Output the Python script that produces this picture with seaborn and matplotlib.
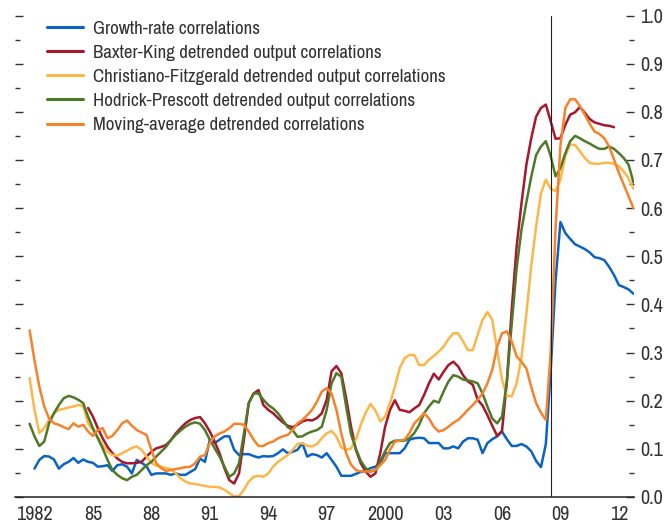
import numpy as np
import pandas as pd
import seaborn as sns
import matplotlib.pyplot as plt
from matplotlib import font_manager
from matplotlib.ticker import MultipleLocator, FixedLocator, FixedFormatter

# quarterly correlations, x = year + (quarter-1)/4
growth_start = 1982.0
growth = [
    0.059, 0.077, 0.085, 0.084,
    0.078, 0.059, 0.068, 0.073,
    0.081, 0.071, 0.078, 0.073,
    0.071, 0.063, 0.064, 0.066,
    0.054, 0.066, 0.068, 0.063,
    0.049, 0.077, 0.071, 0.064,
    0.046, 0.049, 0.049, 0.049,
    0.046, 0.049, 0.046, 0.046,
    0.052, 0.058, 0.080, 0.073,
    0.119, 0.112, 0.119, 0.126,
    0.126, 0.098, 0.087, 0.089,
    0.089, 0.085, 0.082, 0.085,
    0.084, 0.085, 0.091, 0.099,
    0.091, 0.094, 0.098, 0.112,
    0.084, 0.089, 0.087, 0.082,
    0.091, 0.077, 0.063, 0.044,
    0.044, 0.044, 0.048, 0.052,
    0.054, 0.060, 0.063, 0.070,
    0.091, 0.091, 0.091, 0.091,
    0.101, 0.119, 0.122, 0.123,
    0.122, 0.112, 0.112, 0.112,
    0.101, 0.101, 0.105, 0.101,
    0.115, 0.122, 0.122, 0.119,
    0.091, 0.112, 0.120, 0.126,
    0.136, 0.120, 0.106, 0.106,
    0.110, 0.105, 0.095, 0.075,
    0.062, 0.110, 0.264, 0.450,
    0.571, 0.548, 0.536, 0.525,
    0.520, 0.515, 0.508, 0.498,
    0.496, 0.492, 0.478, 0.461,
    0.440, 0.436, 0.431, 0.422,
]

bk_start = 1984.75
baxter_king = [
    0.185,
    0.167, 0.143, 0.122, 0.104,
    0.091, 0.080, 0.073, 0.070,
    0.070, 0.071, 0.073, 0.084,
    0.094, 0.101, 0.104, 0.108,
    0.118, 0.132, 0.143, 0.153,
    0.160, 0.164, 0.166, 0.153,
    0.136, 0.115, 0.091, 0.060,
    0.035, 0.028, 0.049, 0.119,
    0.195, 0.215, 0.222, 0.191,
    0.181, 0.174, 0.164, 0.155,
    0.148, 0.145, 0.150, 0.157,
    0.160, 0.159, 0.164, 0.174,
    0.202, 0.261, 0.272, 0.257,
    0.205, 0.146, 0.098, 0.070,
    0.053, 0.042, 0.049, 0.091,
    0.146, 0.181, 0.201, 0.181,
    0.179, 0.176, 0.184, 0.191,
    0.212, 0.236, 0.256, 0.244,
    0.260, 0.274, 0.281, 0.271,
    0.253, 0.240, 0.233, 0.202,
    0.190, 0.170, 0.148, 0.127,
    0.137, 0.240, 0.390, 0.520,
    0.610, 0.690, 0.745, 0.790,
    0.808, 0.815, 0.780, 0.744,
    0.745, 0.773, 0.794, 0.799,
    0.810, 0.798, 0.785, 0.778,
    0.775, 0.772, 0.771, 0.768,
]

cf_start = 1981.75
christiano_fitzgerald = [
    0.247,
    0.181, 0.133, 0.143, 0.160,
    0.174, 0.181, 0.183, 0.186,
    0.188, 0.191, 0.189, 0.153,
    0.139, 0.125, 0.108, 0.094,
    0.087, 0.086, 0.091, 0.096,
    0.102, 0.105, 0.098, 0.084,
    0.071, 0.065, 0.063, 0.060,
    0.058, 0.049, 0.039, 0.032,
    0.028, 0.027, 0.025, 0.023,
    0.021, 0.021, 0.020, 0.015,
    0.008, 0.001, 0.002, 0.015,
    0.032, 0.042, 0.044, 0.042,
    0.049, 0.063, 0.073, 0.080,
    0.087, 0.098, 0.110, 0.112,
    0.106, 0.105, 0.110, 0.122,
    0.132, 0.137, 0.126, 0.103,
    0.098, 0.101, 0.119, 0.150,
    0.175, 0.193, 0.180, 0.157,
    0.167, 0.195, 0.229, 0.268,
    0.288, 0.295, 0.295, 0.274,
    0.274, 0.285, 0.293, 0.302,
    0.312, 0.328, 0.340, 0.340,
    0.323, 0.305, 0.305, 0.337,
    0.368, 0.384, 0.368, 0.305,
    0.244, 0.210, 0.209, 0.236,
    0.290, 0.380, 0.480, 0.562,
    0.631, 0.659, 0.640, 0.635,
    0.659, 0.708, 0.732, 0.731,
    0.718, 0.704, 0.694, 0.692,
    0.692, 0.694, 0.694, 0.692,
    0.687, 0.676, 0.662, 0.640,
]

hp_start = 1981.75
hodrick_prescott = [
    0.152,
    0.126, 0.106, 0.115, 0.153,
    0.174, 0.191, 0.205, 0.210,
    0.207, 0.202, 0.195, 0.167,
    0.143, 0.122, 0.101, 0.077,
    0.056, 0.046, 0.039, 0.035,
    0.042, 0.046, 0.056, 0.066,
    0.073, 0.084, 0.094, 0.104,
    0.118, 0.129, 0.138, 0.146,
    0.152, 0.155, 0.152, 0.139,
    0.119, 0.101, 0.084, 0.063,
    0.042, 0.049, 0.070, 0.132,
    0.195, 0.215, 0.215, 0.202,
    0.191, 0.184, 0.174, 0.160,
    0.145, 0.139, 0.125, 0.126,
    0.132, 0.136, 0.139, 0.146,
    0.181, 0.236, 0.257, 0.250,
    0.188, 0.130, 0.100, 0.075,
    0.060, 0.053, 0.056, 0.074,
    0.095, 0.112, 0.117, 0.117,
    0.117, 0.122, 0.133, 0.150,
    0.174, 0.188, 0.200, 0.196,
    0.219, 0.240, 0.253, 0.250,
    0.244, 0.242, 0.240, 0.236,
    0.215, 0.188, 0.163, 0.153,
    0.167, 0.240, 0.360, 0.475,
    0.555, 0.612, 0.665, 0.710,
    0.728, 0.739, 0.708, 0.666,
    0.683, 0.714, 0.739, 0.750,
    0.745, 0.739, 0.734, 0.728,
    0.723, 0.723, 0.728, 0.723,
    0.714, 0.704, 0.690, 0.653,
]

ma_start = 1981.75
moving_average = [
    0.346,
    0.284, 0.229, 0.188, 0.163,
    0.153, 0.150, 0.145, 0.141,
    0.153, 0.146, 0.150, 0.136,
    0.127, 0.139, 0.143, 0.122,
    0.127, 0.139, 0.153, 0.159,
    0.148, 0.139, 0.134, 0.129,
    0.098, 0.070, 0.060, 0.054,
    0.056, 0.058, 0.060, 0.062,
    0.063, 0.070, 0.084, 0.087,
    0.112, 0.126, 0.132, 0.136,
    0.143, 0.152, 0.152, 0.150,
    0.136, 0.119, 0.106, 0.106,
    0.112, 0.115, 0.122, 0.126,
    0.129, 0.139, 0.153, 0.160,
    0.170, 0.181, 0.198, 0.219,
    0.226, 0.215, 0.181, 0.132,
    0.091, 0.067, 0.056, 0.053,
    0.053, 0.053, 0.056, 0.066,
    0.077, 0.098, 0.115, 0.117,
    0.119, 0.133, 0.153, 0.163,
    0.174, 0.163, 0.146, 0.136,
    0.139, 0.146, 0.154, 0.160,
    0.170, 0.181, 0.191, 0.202,
    0.215, 0.236, 0.264, 0.312,
    0.340, 0.344, 0.323, 0.292,
    0.281, 0.267, 0.229, 0.195,
    0.175, 0.160, 0.300, 0.560,
    0.730, 0.808, 0.826, 0.826,
    0.812, 0.794, 0.775, 0.759,
    0.754, 0.745, 0.728, 0.701,
    0.673, 0.649, 0.624, 0.600,
]

series_names = [
    'Growth-rate correlations',
    'Baxter-King detrended output correlations',
    'Christiano-Fitzgerald detrended output correlations',
    'Hodrick-Prescott detrended output correlations',
    'Moving-average detrended correlations',
]
colors = ['#0A63C4', '#A8172C', '#FDB748', '#4E7A27', '#F7822B']

year_ticks = list(range(1982, 2013, 3))
year_labels = ['1982', '85', '88', '91', '94', '97', '2000', '03', '06', '09', '12']
lehman = 2008.5


def build_frame():
    parts = []
    for name, start, vals in zip(
            series_names,
            [growth_start, bk_start, cf_start, hp_start, ma_start],
            [growth, baxter_king, christiano_fitzgerald, hodrick_prescott, moving_average]):
        t = start + 0.25 * np.arange(len(vals))
        parts.append(pd.DataFrame({'date': t, 'value': vals, 'series': name}))
    return pd.concat(parts, ignore_index=True)


def pick_narrow_font():
    # the original uses a condensed face; take a narrow one if the system has it
    fonts = font_manager.fontManager.ttflist
    for f in fonts:
        if 'narrow' in f.name.lower():
            return f.fname
    for f in fonts:
        if str(f.stretch) in ('condensed', 'semi-condensed', '75', '87') or 'condensed' in f.fname.lower():
            if 'bold' not in f.fname.lower() and 'oblique' not in f.fname.lower():
                return f.fname
    return None


df = build_frame()

sns.set_style('white')
plt.rcParams['font.family'] = ['DejaVu Sans']

narrow = pick_narrow_font()
if narrow:
    font_manager.fontManager.addfont(narrow)
    fam = font_manager.FontProperties(fname=narrow).get_name()
    plt.rcParams['font.family'] = [fam, 'DejaVu Sans']
    legend_size = 13.6
    tick_size = 14.5
else:
    legend_size = 11
    tick_size = 12

fig = plt.figure(figsize=(6.68, 5.26), dpi=100)
ax = fig.add_axes([15 / 668, 1 - 497 / 526, (633.5 - 15) / 668, (497 - 15.5) / 526])

sns.lineplot(data=df, x='date', y='value', hue='series', hue_order=series_names,
             palette=colors, linewidth=1.8, estimator=None, ax=ax)

ax.axvline(lehman, color='#222222', linewidth=0.8)

ax.set_xlim(1981.0, 2012.75)
ax.set_ylim(0, 1.0)
ax.set_xlabel('')
ax.set_ylabel('')

for side in ['top', 'left', 'right']:
    ax.spines[side].set_visible(False)
ax.spines['bottom'].set_color('#222222')
ax.spines['bottom'].set_linewidth(1.1)

# x axis: a tick each year, labels every third year
ax.xaxis.set_major_locator(FixedLocator(year_ticks))
ax.xaxis.set_major_formatter(FixedFormatter(year_labels))
ax.xaxis.set_minor_locator(MultipleLocator(1))
ax.tick_params(axis='x', which='both', direction='in', length=4, width=1,
               color='#222222', labelsize=tick_size, labelcolor='#333333', pad=6)

# y ticks on both sides, labels only on the right
ax.yaxis.set_major_locator(MultipleLocator(0.1))
ax.yaxis.set_minor_locator(MultipleLocator(0.05))
ax.yaxis.set_major_formatter(lambda v, p: f'{v:.1f}')
ax.tick_params(axis='y', which='both', left=True, right=True, labelleft=False,
               labelright=True, direction='in', color='#333333', width=1,
               labelsize=tick_size, labelcolor='#333333', pad=5)
ax.tick_params(axis='y', which='major', length=6)
ax.tick_params(axis='y', which='minor', length=3.5)

leg = ax.legend(loc='upper left', bbox_to_anchor=(0.052, 0.99), frameon=False,
                fontsize=legend_size, handlelength=1.9, handletextpad=0.55,
                labelspacing=0.42, borderpad=0, borderaxespad=0)
for txt in leg.get_texts():
    txt.set_color('#333333')
for line in leg.get_lines():
    line.set_linewidth(2.2)

fig.savefig('out.png', dpi=100)
